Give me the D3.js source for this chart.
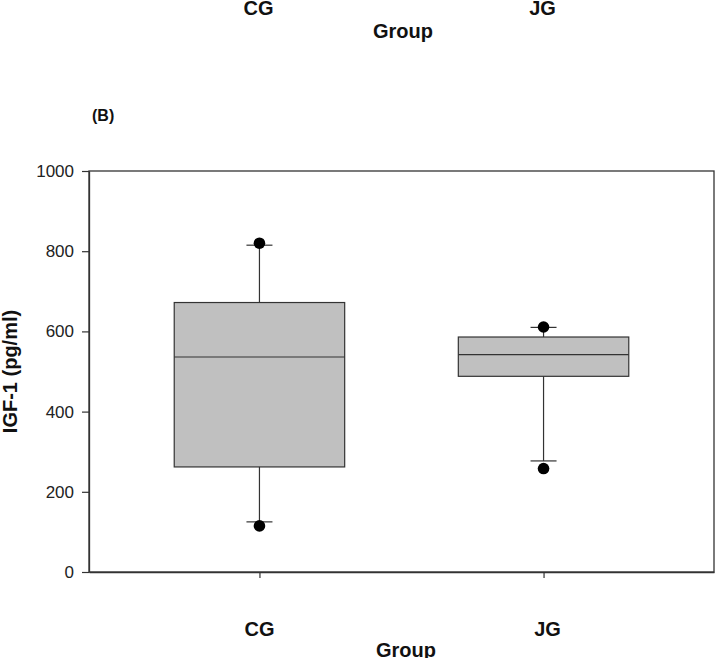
<!doctype html>
<html>
<head>
	<meta charset="utf-8">
	<title>IGF-1 by group</title>
	<style>
		body { margin: 0; background: #fff; }
		text { font-family: "Liberation Sans", Arial, sans-serif; }
	</style>
</head>
<body>

<svg width="715" height="658"></svg>
<script src="https://d3js.org/d3.v7.min.js"></script>
<script>
// box plot values (pg/ml)
var groups = ["CG", "JG"];
var lowWhisker = [125, 277];
var q1 = [262, 488];
var median = [536, 542];
var q3 = [672, 586];
var highWhisker = [815, 610];
var outliers = [[820, 115], [611, 258]];
var yTicks = [0, 200, 400, 600, 800, 1000];

var svg = d3.select("svg"),
    plotLeft = 89, plotRight = 714, plotTop = 171, plotBottom = 572;

var x = d3.scalePoint()
	.domain(groups)
	.range([plotLeft, plotRight])
	.padding(0.6);

var y = d3.scaleLinear()
	.domain([0, 1000])
	.range([plotBottom, plotTop]);

var boxW = x.step() * 0.6,
    capW = 13;

var data = groups.map(function(g, i) {
	return { g: g, lo: lowWhisker[i], q1: q1[i], med: median[i], q3: q3[i], hi: highWhisker[i], out: outliers[i] };
});

// leftover labels of the panel above
var above = svg.append("g");
above.selectAll(".cat")
	.data(groups)
	.enter()
	.append("text")
	.attr("x", function(d) { return x(d) - 1; })
	.attr("y", 15)
	.attr("text-anchor", "middle")
	.attr("font-size", 20)
	.attr("font-weight", "bold")
	.attr("fill", "#111")
	.text(function(d) { return d; });
above.append("text")
	.attr("x", 403)
	.attr("y", 38)
	.attr("text-anchor", "middle")
	.attr("font-size", 20)
	.attr("font-weight", "bold")
	.attr("fill", "#111")
	.text("Group");

svg.append("text")
	.attr("x", 92)
	.attr("y", 121)
	.attr("font-family", "'Open Sans', sans-serif")
	.attr("font-size", 16)
	.attr("font-weight", "bold")
	.attr("fill", "#111")
	.text("(B)");

// frame
svg.append("rect")
	.attr("x", plotLeft)
	.attr("y", plotTop)
	.attr("width", plotRight - plotLeft)
	.attr("height", plotBottom - plotTop)
	.attr("fill", "none")
	.attr("stroke", "#333")
	.attr("stroke-width", 1.3);

// y axis
var yAxis = svg.append("g")
	.attr("transform", "translate(" + plotLeft + ",0)")
	.call(d3.axisLeft(y).tickValues(yTicks).tickFormat(d3.format("d")).tickSize(7).tickPadding(8).tickSizeOuter(0));
yAxis.select(".domain").attr("stroke", "#333").attr("stroke-width", 1.3);
yAxis.selectAll(".tick line").attr("stroke", "#333").attr("stroke-width", 1.2);
yAxis.selectAll(".tick text")
	.attr("font-family", "'Liberation Sans', Arial, sans-serif")
	.attr("font-size", 17)
	.attr("fill", "#222");

// x axis
var xAxis = svg.append("g")
	.attr("transform", "translate(0," + plotBottom + ")")
	.call(d3.axisBottom(x).tickSize(6).tickSizeOuter(0).tickFormat(""));
xAxis.select(".domain").attr("stroke", "#333").attr("stroke-width", 1.3);
xAxis.selectAll(".tick line").attr("stroke", "#333").attr("stroke-width", 1.2);

svg.selectAll(".xlab")
	.data(groups)
	.enter()
	.append("text")
	.attr("x", function(d) { return x(d) + (d == "JG" ? 4 : 0); })
	.attr("y", 636)
	.attr("text-anchor", "middle")
	.attr("font-size", 20)
	.attr("font-weight", "bold")
	.attr("fill", "#111")
	.text(function(d) { return d; });

svg.append("text")
	.attr("x", 406)
	.attr("y", 657)
	.attr("text-anchor", "middle")
	.attr("font-size", 20)
	.attr("font-weight", "bold")
	.attr("fill", "#111")
	.text("Group");

svg.append("text")
	.attr("transform", "translate(17," + ((plotTop + plotBottom) / 2) + ") rotate(-90)")
	.attr("text-anchor", "middle")
	.attr("font-size", 20)
	.attr("font-weight", "bold")
	.attr("fill", "#111")
	.text("IGF-1 (pg/ml)");

// boxes
var box = svg.selectAll(".box")
	.data(data)
	.enter()
	.append("g");

box.append("line")
	.attr("x1", function(d) { return x(d.g); })
	.attr("x2", function(d) { return x(d.g); })
	.attr("y1", function(d) { return y(d.hi); })
	.attr("y2", function(d) { return y(d.lo); })
	.attr("stroke", "#333")
	.attr("stroke-width", 1.2);

box.selectAll(".cap")
	.data(function(d) { return [d.lo, d.hi].map(function(v) { return { g: d.g, v: v }; }); })
	.enter()
	.append("line")
	.attr("x1", function(d) { return x(d.g) - capW; })
	.attr("x2", function(d) { return x(d.g) + capW; })
	.attr("y1", function(d) { return y(d.v); })
	.attr("y2", function(d) { return y(d.v); })
	.attr("stroke", "#333")
	.attr("stroke-width", 1.2);

box.append("rect")
	.attr("x", function(d) { return x(d.g) - boxW / 2; })
	.attr("width", boxW)
	.attr("y", function(d) { return y(d.q3); })
	.attr("height", function(d) { return y(d.q1) - y(d.q3); })
	.attr("fill", "#c0c0c0")
	.attr("stroke", "#333")
	.attr("stroke-width", 1.2);

box.append("line")
	.attr("x1", function(d) { return x(d.g) - boxW / 2; })
	.attr("x2", function(d) { return x(d.g) + boxW / 2; })
	.attr("y1", function(d) { return y(d.med); })
	.attr("y2", function(d) { return y(d.med); })
	.attr("stroke", "#333")
	.attr("stroke-width", 1.1);

box.selectAll(".dot")
	.data(function(d) { return d.out.map(function(v) { return { g: d.g, v: v }; }); })
	.enter()
	.append("circle")
	.attr("cx", function(d) { return x(d.g); })
	.attr("cy", function(d) { return y(d.v); })
	.attr("r", 5.8)
	.attr("fill", "#000");

</script>
</body>
</html>
